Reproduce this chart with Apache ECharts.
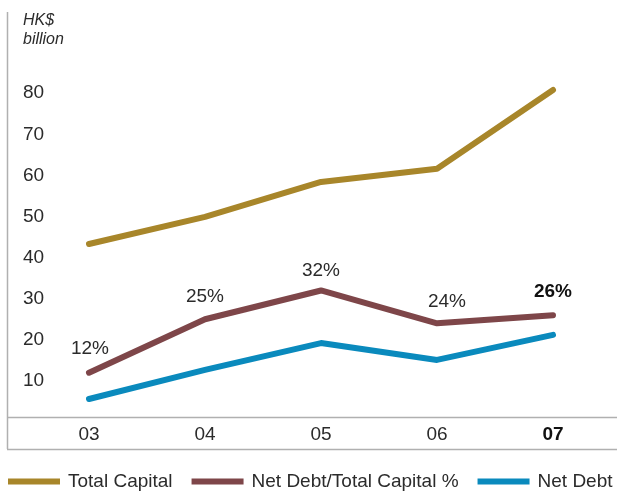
<!DOCTYPE html>
<html>
<head>
<meta charset="utf-8">
<script src="https://cdn.jsdelivr.net/npm/echarts@6/dist/echarts.min.js"></script>
<style>
  html, body { margin: 0; padding: 0; background: #fff; }
  #chart { width: 617px; height: 492px; }
</style>
</head>
<body>
<div id="chart"></div>
<script>
// Financial years and the three series (HK$ billion; ratio in %)
const years = ['03', '04', '05', '06', '07'];
const totalCapital = [43.3, 49.9, 58.4, 61.6, 80.8];
const gearingPct = [12, 25, 32, 24, 26];
const netDebt = [5.6, 12.7, 19.2, 15.1, 21.2];
const yTicks = [10, 20, 30, 40, 50, 60, 70, 80];

const FONT = 'Liberation Sans, Arial, sans-serif';
const TEXT = '#2b2b2b';
const FRAME = '#b0b0b0';
const GOLD = '#a8862a', MAROON = '#7e4649', BLUE = '#0a8abd';
const FS = 19;

const chart = echarts.init(document.getElementById('chart'), null, { renderer: 'canvas' });

// Per-point label placement for the ratio line
const labelOffsets = [[1, -1], [0, 1], [0, 3], [10, 1], [0, 0]];

const gearingData = gearingPct.map((v, i) => ({
  value: v,
  label: {
    show: true,
    position: 'top',
    distance: 13,
    offset: labelOffsets[i],
    formatter: v + '%',
    fontFamily: FONT,
    fontSize: FS,
    color: i === years.length - 1 ? '#111' : TEXT,
    fontWeight: i === years.length - 1 ? 'bold' : 'normal'
  }
}));

const lineStyle = (color) => ({ width: 6, color: color, cap: 'round', join: 'round' });

chart.setOption({
  animation: false,
  grid: { left: 31, right: 6, top: 11, bottom: 70 },
  xAxis: {
    type: 'category',
    data: years,
    boundaryGap: true,
    axisLine: { show: false },
    axisTick: { show: false },
    axisLabel: {
      margin: 3,
      fontFamily: FONT,
      fontSize: FS,
      color: TEXT,
      formatter: (v, i) => i === years.length - 1 ? '{b|' + v + '}' : v,
      rich: { b: { fontFamily: FONT, fontSize: FS, fontWeight: 'bold', color: '#111' } }
    }
  },
  yAxis: {
    type: 'value',
    min: 0,
    max: 100,
    interval: 10,
    axisLine: { show: false },
    axisTick: { show: false },
    splitLine: { show: false },
    axisLabel: {
      align: 'left',
      margin: 8,
      fontFamily: FONT,
      fontSize: FS,
      color: TEXT,
      formatter: (v) => yTicks.indexOf(v) >= 0 ? String(v) : ''
    }
  },
  legend: {
    left: 8,
    top: 472,
    padding: 0,
    icon: 'rect',
    itemWidth: 52,
    itemHeight: 6,
    itemGap: 19,
    textStyle: { fontFamily: FONT, fontSize: 19, color: TEXT, padding: [0, 0, 0, 3] },
    data: [
      { name: 'Total Capital', itemStyle: { color: GOLD } },
      { name: 'Net Debt/Total Capital %', itemStyle: { color: MAROON } },
      { name: 'Net Debt', itemStyle: { color: BLUE } }
    ]
  },
  series: [
    {
      name: 'Total Capital', type: 'line', data: totalCapital,
      symbol: 'none', color: GOLD, lineStyle: lineStyle(GOLD)
    },
    {
      name: 'Net Debt/Total Capital %', type: 'line', data: gearingData,
      // 1px symbols hidden under the stroke carry the value labels
      symbol: 'circle', symbolSize: 1, showSymbol: true,
      itemStyle: { color: MAROON },
      color: MAROON, lineStyle: lineStyle(MAROON)
    },
    {
      name: 'Net Debt', type: 'line', data: netDebt,
      symbol: 'none', color: BLUE, lineStyle: lineStyle(BLUE)
    }
  ],
  graphic: [
    // unit caption
    {
      type: 'text', left: 23, top: 11,
      style: { text: 'HK$\nbillion', font: 'italic 16px ' + FONT, fill: TEXT, lineHeight: 19 }
    },
    // frame: vertical rule and the band holding the year labels
    { type: 'line', shape: { x1: 7.5, y1: 12, x2: 7.5, y2: 449 }, style: { stroke: FRAME, lineWidth: 1.5 } },
    { type: 'line', shape: { x1: 7, y1: 417.5, x2: 617, y2: 417.5 }, style: { stroke: FRAME, lineWidth: 1.5 } },
    { type: 'line', shape: { x1: 7, y1: 449.5, x2: 617, y2: 449.5 }, style: { stroke: FRAME, lineWidth: 1.5 } }
  ]
});
</script>
</body>
</html>
